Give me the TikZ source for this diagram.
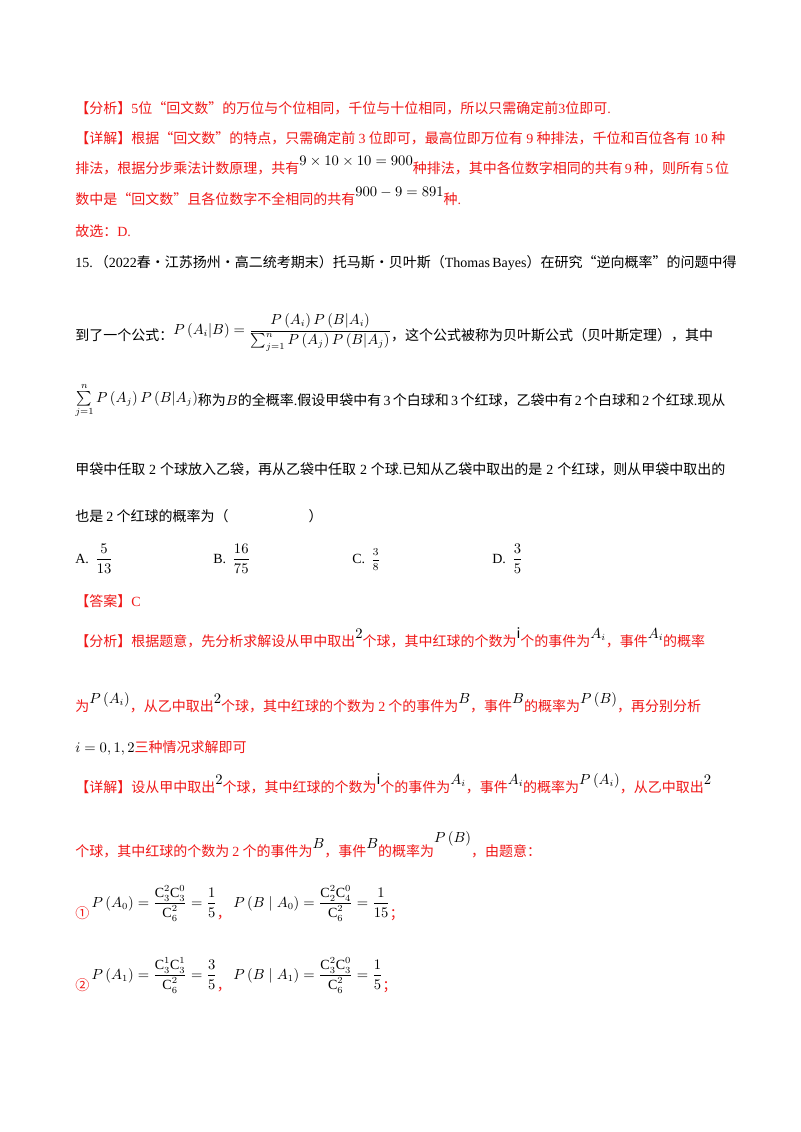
\documentclass[tikz,border=0pt]{standalone}
\usepackage{fontspec}
\usepackage{amsmath}
\setmainfont{Noto Sans CJK SC}
\newfontfamily\lat{Liberation Serif}
\XeTeXlinebreaklocale "zh"
\XeTeXlinebreakskip=0pt plus 2pt
\definecolor{rd}{HTML}{F01818}
\newcommand{\up}[1]{\raisebox{6pt}{#1}}
\newcommand{\Cc}{\text{\lat C}}
\newcommand{\full}[1]{\makebox[487.5pt][s]{#1}}
\begin{document}
\begin{tikzpicture}[x=0.75pt,y=-0.75pt,
  txt/.style={anchor=base west,inner sep=0,font=\fontsize{10.5pt}{12pt}\selectfont},
  rt/.style={txt,text=rd}]
\useasboundingbox[fill=white] (0,0) rectangle (800,1132);
\node[rt] (l1) at (75,113) {【分析】{\lat 5}位“回文数”的万位与个位相同，千位与十位相同，所以只需确定前{\lat 3}位即可{\lat .}};
\node[rt] (l2) at (75,143) {\full{【详解】根据“回文数”的特点，只需确定前 {\lat 3} 位即可，最高位即万位有 {\lat 9} 种排法，千位和百位各有 {\lat 10} 种}};
\node[rt] (l3) at (75,173) {\full{排法，根据分步乘法计数原理，共有\up{\color{black}$9\times10\times10=900$}种排法，其中各位数字相同的共有 {\lat 9} 种，则所有 {\lat 5} 位}};
\node[rt] (l4) at (75,204) {数中是“回文数”且各位数字不全相同的共有\up{\color{black}$900-9=891$}种{\lat .}};
\node[rt] (l5) at (75,236) {故选：{\lat D.}};
\node[txt] (q1) at (75,267) {\full{{\lat 15.}\ （{\lat 2022}春·江苏扬州·高二统考期末）托马斯·贝叶斯（{\lat Thomas Bayes}）在研究“逆向概率”的问题中得}};
\node[txt] (q2) at (75,340) {到了一个公式：\raisebox{4pt}{$P\left(A_i\middle|B\right)=\dfrac{P\left(A_i\right)P\left(B\middle|A_i\right)}{\sum_{j=1}^{n}P\left(A_j\right)P\left(B\middle|A_j\right)}$}，这个公式被称为贝叶斯公式（贝叶斯定理），其中};
\node[txt] (q3) at (75,405) {\full{\raisebox{2pt}{$\sum\limits_{j=1}^{n}P\left(A_j\right)P\left(B\middle|A_j\right)$}称为$B$的全概率{\lat .}假设甲袋中有 {\lat 3} 个白球和 {\lat 3} 个红球，乙袋中有 {\lat 2} 个白球和 {\lat 2} 个红球{\lat .}现从}};
\node[txt] (q4) at (75,474) {\full{甲袋中任取 {\lat 2} 个球放入乙袋，再从乙袋中任取 {\lat 2} 个球{\lat .}已知从乙袋中取出的是 {\lat 2} 个红球，则从甲袋中取出的}};
\node[txt] (q5) at (75,521) {也是 {\lat 2} 个红球的概率为（\hspace{60pt}）};
\node[txt] (oa) at (75,563) {{\lat A.}\ \ $\dfrac{5}{13}$};
\node[txt] (ob) at (213,563) {{\lat B.}\ \ $\dfrac{16}{75}$};
\node[txt] (oc) at (352,563) {{\lat C.}\ \ {\footnotesize$\dfrac{3}{8}$}};
\node[txt] (od) at (492,563) {{\lat D.}\ \ $\dfrac{3}{5}$};
\node[rt] (a1) at (75,606) {【答案】{\lat C}};
\node[rt] (a2) at (75,646) {\full{【分析】根据题意，先分析求解设从甲中取出\up{\color{black}$2$}个球，其中红球的个数为\up{\color{black}$\mathrm{i}$}个的事件为\up{\color{black}$A_i$}，事件\up{\color{black}$A_i$}的概率}};
\node[rt] (a3) at (75,711) {为\up{\color{black}$P\left(A_i\right)$}，从乙中取出\up{\color{black}$2$}个球，其中红球的个数为 {\lat 2} 个的事件为\up{\color{black}$B$}，事件\up{\color{black}$B$}的概率为\up{\color{black}$P\left(B\right)$}，再分别分析};
\node[rt] (a4) at (75,752) {\color{black}$i=0,1,2$\color{rd}三种情况求解即可};
\node[rt] (a5) at (75,792) {\full{【详解】设从甲中取出\up{\color{black}$2$}个球，其中红球的个数为\up{\color{black}$\mathrm{i}$}个的事件为\up{\color{black}$A_i$}，事件\up{\color{black}$A_i$}的概率为\up{\color{black}$P\left(A_i\right)$}，从乙中取出\up{\color{black}$2$}}};
\node[rt] (a6) at (75,856) {个球，其中红球的个数为 {\lat 2} 个的事件为\up{\color{black}$B$}，事件\up{\color{black}$B$}的概率为\raisebox{10pt}{\color{black}$P\left(B\right)$}，由题意：};
\node[rt] (a7) at (75,918) {①\,\raisebox{8pt}{\color{black}$P\left(A_0\right)=\dfrac{\Cc_3^2\Cc_3^0}{\Cc_6^2}=\dfrac{1}{5}$}，\,\raisebox{8pt}{\color{black}$P\left(B\mid A_0\right)=\dfrac{\Cc_2^2\Cc_4^0}{\Cc_6^2}=\dfrac{1}{15}$}；};
\node[rt] (a8) at (75,990) {②\,\raisebox{8pt}{\color{black}$P\left(A_1\right)=\dfrac{\Cc_3^1\Cc_3^1}{\Cc_6^2}=\dfrac{3}{5}$}，\,\raisebox{8pt}{\color{black}$P\left(B\mid A_1\right)=\dfrac{\Cc_3^2\Cc_3^0}{\Cc_6^2}=\dfrac{1}{5}$}；};
\end{tikzpicture}
\end{document}
